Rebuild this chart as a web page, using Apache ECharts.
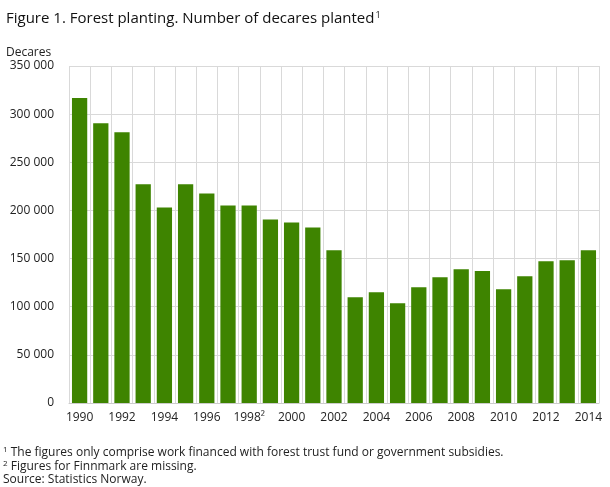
<!DOCTYPE html>
<html>
<head>
<meta charset="utf-8">
<script src="https://cdn.jsdelivr.net/npm/echarts@6/dist/echarts.min.js"></script>
<style>
html,body{margin:0;padding:0;background:#fff;}
#chart{width:610px;height:487px;}
</style>
</head>
<body>
<div id="chart"></div>
<script>
const years = ['1990','1991','1992','1993','1994','1995','1996','1997','1998','1999','2000','2001','2002','2003','2004','2005','2006','2007','2008','2009','2010','2011','2012','2013','2014'];
const decares = [316700,290600,281300,227100,203100,227100,217700,205200,205200,190600,187500,182300,158600,109700,114900,103500,120100,130500,138900,137000,118100,131600,147200,148200,158600];
const yTicks = {min:0, max:350000, interval:50000};
const footnotes = [
  '{sup|1} The figures only comprise work financed with forest trust fund or government subsidies.',
  '{sup|2} Figures for Finnmark are missing.',
  'Source: Statistics Norway.'
];
const FONT = '"Open Sans", sans-serif';
const chart = echarts.init(document.getElementById('chart'), null, {renderer:'canvas'});
chart.setOption({
  animation:false,
  textStyle:{fontFamily:FONT},
  title:[
    {text:'Figure 1. Forest planting. Number of decares planted{sup|1}', left:6, top:11, padding:0,
     textStyle:{fontFamily:FONT, fontSize:15, fontWeight:'normal', color:'#111',
       rich:{sup:{fontSize:9, verticalAlign:'top', padding:[0,0,6,1], color:'#111', fontFamily:FONT}}}},
    {text:'Decares', left:6, top:47, padding:0, textStyle:{fontFamily:FONT, fontSize:12, fontWeight:'normal', color:'#222'}},
    {text:footnotes.join('\n'), left:3, top:446, padding:0,
     textStyle:{fontFamily:FONT, fontSize:12, fontWeight:'normal', color:'#222', lineHeight:13.5,
       rich:{sup:{fontSize:8, verticalAlign:'top', padding:[0,0,4,0], color:'#222', fontFamily:FONT}}}}
  ],
  grid:{left:69, right:11, top:66, bottom:84, containLabel:false},
  xAxis:{
    type:'category', data:years, boundaryGap:true,
    axisLine:{show:true, lineStyle:{color:'#ccc'}},
    axisTick:{show:false},
    splitLine:{show:true, interval:0, lineStyle:{color:'#d9d9d9', width:1}},
    axisLabel:{interval:1, color:'#222', fontSize:12, fontFamily:FONT, margin:9,
      formatter:function(v){return v==='1998' ? '1998\u00B2' : v;}}
  },
  yAxis:{
    type:'value', min:yTicks.min, max:yTicks.max, interval:yTicks.interval,
    axisLine:{show:false}, axisTick:{show:false},
    splitLine:{lineStyle:{color:'#d9d9d9', width:1}},
    axisLabel:{color:'#222', fontSize:12, fontFamily:FONT, margin:15,
      formatter:function(v){return String(v).replace(/\B(?=(\d{3})+(?!\d))/g,' ');}}
  },
  series:[{
    type:'bar', data:decares, barCategoryGap:'28%',
    itemStyle:{color:'#3e8400'}
  }]
});
</script>
</body>
</html>
